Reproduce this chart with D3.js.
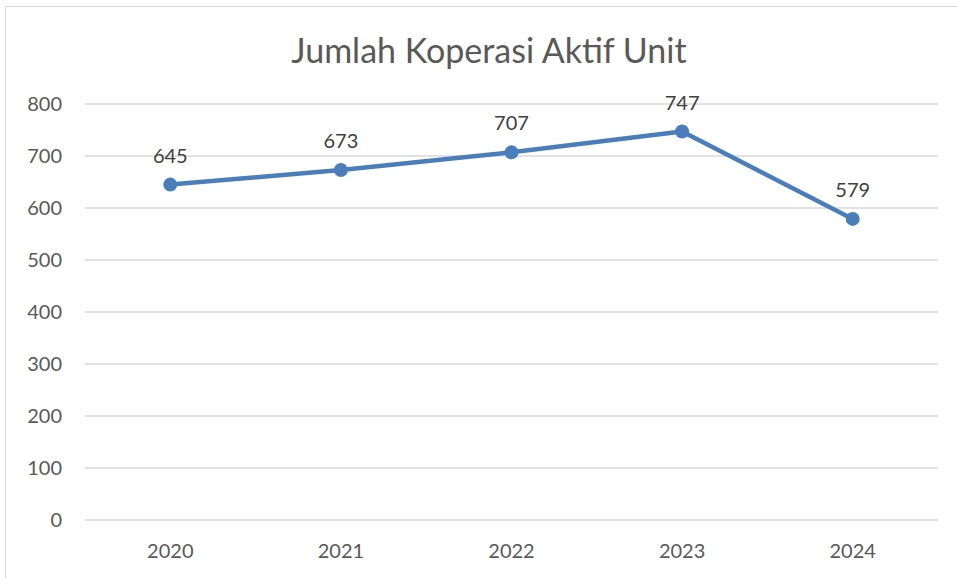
<!DOCTYPE html>
<html>
<head>
<meta charset="utf-8">
<script src="https://cdn.jsdelivr.net/npm/d3@7"></script>
<style>
  body { margin: 0; background: #fff; }
  text { font-family: Lato, "Open Sans", sans-serif; }
</style>
</head>
<body>
<svg id="chart"></svg>
<script>
// data
var years = ["2020", "2021", "2022", "2023", "2024"];
var values = [645, 673, 707, 747, 579];
var yTicks = [0, 100, 200, 300, 400, 500, 600, 700, 800];

var width = 957;
var height = 578;
var margin = { "top": 104, "right": 19, "bottom": 58, "left": 85 };

var svg = d3.select("svg#chart")
    .attr("width", width)
    .attr("height", height);

// chart frame
svg.append("rect")
    .attr("x", 5.5)
    .attr("y", 6.5)
    .attr("width", width + 20)
    .attr("height", height + 20)
    .attr("fill", "white")
    .attr("stroke", "#d9d9d9")
    .attr("stroke-width", 1);

var x = d3.scaleBand()
    .domain(years)
    .range([margin.left, width - margin.right]);

var y = d3.scaleLinear()
    .domain([0, 800])
    .range([height - margin.bottom, margin.top]);

// gridlines
svg.append("g")
    .selectAll("line")
    .data(yTicks)
    .join("line")
    .attr("x1", margin.left)
    .attr("x2", width - margin.right)
    .attr("y1", d => y(d))
    .attr("y2", d => y(d))
    .attr("stroke", "#d9d9d9")
    .attr("stroke-width", 1.5);

// y axis labels
var yAxis = svg.append("g")
    .attr("transform", "translate(" + (margin.left - 23) + ",0)")
    .call(d3.axisLeft(y).tickValues(yTicks).tickSize(0).tickPadding(0));
yAxis.select(".domain").remove();
yAxis.selectAll("text")
    .attr("fill", "#595959")
    .style("font-size", "20px");

// x axis labels
var xAxis = svg.append("g")
    .attr("transform", "translate(0," + (height - margin.bottom) + ")")
    .call(d3.axisBottom(x).tickSize(0).tickPadding(24));
xAxis.select(".domain").remove();
xAxis.selectAll("text")
    .attr("fill", "#595959")
    .style("font-size", "20px");

// title
svg.append("text")
    .attr("x", 489)
    .attr("y", 63)
    .attr("text-anchor", "middle")
    .attr("fill", "#595959")
    .style("font-size", "34px")
    .text("Jumlah Koperasi Aktif Unit");

var cx = d => x(d) + x.bandwidth() / 2;

var line = d3.line()
    .x((d, i) => cx(years[i]))
    .y(d => y(d));

svg.append("path")
    .datum(values)
    .attr("d", line)
    .attr("fill", "none")
    .attr("stroke", "#4a7ebb")
    .attr("stroke-width", 4.5)
    .attr("stroke-linejoin", "round");

svg.append("g")
    .selectAll("circle")
    .data(values)
    .join("circle")
    .attr("cx", (d, i) => cx(years[i]))
    .attr("cy", d => y(d))
    .attr("r", 7)
    .attr("fill", "#4a7ebb");

// data labels
svg.append("g")
    .selectAll("text")
    .data(values)
    .join("text")
    .attr("x", (d, i) => cx(years[i]))
    .attr("y", d => y(d) - 22)
    .attr("text-anchor", "middle")
    .attr("fill", "#404040")
    .style("font-size", "20px")
    .text(d => d);
</script>
</body>
</html>
